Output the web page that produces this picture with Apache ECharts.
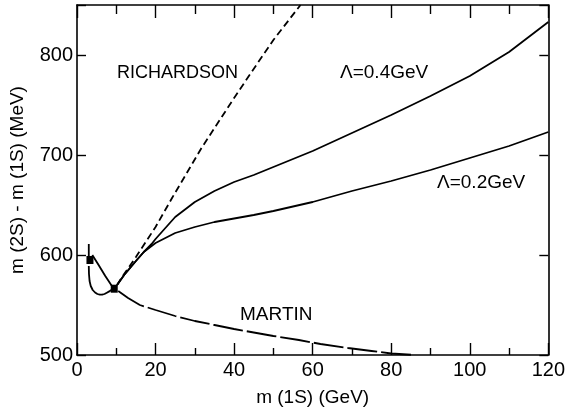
<!DOCTYPE html>
<html><head><meta charset="utf-8">
<script src="https://cdn.jsdelivr.net/npm/echarts@6/dist/echarts.min.js"></script>
<style>html,body{margin:0;padding:0;background:#fff}#c{width:568px;height:412px}</style>
</head><body><div id="c"></div>
<script>
// x ticks / y ticks
const xTicks = [0, 20, 40, 60, 80, 100, 120];
const yTicks = [500, 600, 700, 800];
// measured points (m(1S) GeV, ΔM MeV)
const pointsX = [3.3, 9.48];
const pointsY = [595, 566.3];
// Richardson (dashed)
const richX = [10.2, 12, 15, 20, 24.2, 31.7, 40, 44.1, 50, 56.9];
const richY = [570, 581, 598, 628, 657, 707, 757, 781, 815, 850];
// Lambda = 0.4 GeV
const l4X = [10.2, 12, 15, 17, 19, 20, 25, 30, 35, 40, 45, 50, 60, 70, 80, 90, 100, 110, 120];
const l4Y = [570, 580, 594, 603, 611, 616, 638, 653, 664, 673, 680, 688, 704, 722, 740, 759, 779, 803, 833];
// Lambda = 0.2 GeV
const l2X = [10.2, 12, 15, 17, 19, 20, 25, 30, 35, 40, 45, 50, 60, 70, 80, 90, 100, 110, 120];
const l2Y = [570, 580, 594, 603, 609, 612, 622, 628, 633, 636.5, 640, 644, 653, 664, 674, 685, 697, 709, 723];
// Martin (long dashes)
const martinX = [10.5, 13, 16, 20, 25, 30, 35, 40, 45, 50, 56.5, 62, 69, 75, 80, 86];
const martinY = [564, 557, 550, 545, 539, 534, 530, 526, 522.5, 519, 515, 511, 507, 504, 501.5, 500];
// low-mass branch: charm -> upsilon (descending)
const lowAX = [3.9, 5.5, 7.2, 8.8];
const lowAY = [600, 590, 579, 569.5];
// low-mass branch: dip below charm point
const lowBX = [3.0, 3.05, 3.2, 3.5, 4.0, 4.6, 5.2, 5.8, 6.4, 7.0, 7.6, 8.2, 8.7];
const lowBY = [589, 581, 574, 569, 565, 562.5, 561, 560.3, 560.3, 561, 562.3, 563.6, 565];
// charm error bar
const errX = [3.0, 3.0];
const errY = [611, 598];

const zip = (a, b) => a.map((v, i) => [v, b[i]]);
const FONT = 'Liberation Sans';
const chart = echarts.init(document.getElementById('c'), null, {renderer: 'canvas'});
const lineBase = (name, xs, ys, type, width) => ({
  name, type: 'line', data: zip(xs, ys), showSymbol: false, symbol: 'none',
  smooth: false, clip: true,
  lineStyle: {color: '#000', width: width || 1.8, type: type || 'solid'}, silent: true, z: 3
});
const axisCommon = {
  axisLine: {show: true, onZero: false, lineStyle: {color: '#000', width: 1.6}},
  splitLine: {show: false}
};
const tickStyle = {color: '#000', width: 1.4};
chart.setOption({
  animation: false,
  backgroundColor: '#fff',
  grid: {left: 72.5, right: 12, top: 5, bottom: 53.5, containLabel: false},
  xAxis: [
    Object.assign({type: 'value', min: 0, max: 120, interval: 20, position: 'bottom',
      axisTick: {show: true, inside: true, length: 12, lineStyle: tickStyle},
      minorTick: {show: true, splitNumber: 2, length: 7, lineStyle: tickStyle},
      axisLabel: {color: '#000', fontFamily: FONT, fontSize: 20, margin: 5,
        formatter: v => xTicks.includes(v) ? String(v) : ''},
      name: 'm (1S) (GeV)', nameLocation: 'middle', nameGap: 33,
      nameTextStyle: {color: '#000', fontFamily: FONT, fontSize: 19}}, axisCommon),
    Object.assign({type: 'value', min: 0, max: 120, interval: 20, position: 'top',
      axisTick: {show: true, inside: true, length: 13, lineStyle: tickStyle},
      minorTick: {show: true, splitNumber: 2, length: 9, lineStyle: tickStyle},
      axisLabel: {show: false}}, axisCommon)
  ],
  yAxis: [
    Object.assign({type: 'value', min: 500, max: 850, interval: 100, position: 'left',
      axisTick: {show: true, inside: true, length: 9, lineStyle: tickStyle},
      axisLabel: {color: '#000', fontFamily: FONT, fontSize: 20, margin: 4,
        formatter: v => yTicks.includes(v) ? String(v) : ''},
      name: 'm (2S) - m (1S) (MeV)', nameLocation: 'middle', nameGap: 50, nameRotate: 90,
      nameTextStyle: {color: '#000', fontFamily: FONT, fontSize: 19}}, axisCommon),
    Object.assign({type: 'value', min: 500, max: 850, interval: 100, position: 'right',
      axisTick: {show: true, inside: true, length: 9, lineStyle: tickStyle},
      axisLabel: {show: false}}, axisCommon)
  ],
  series: [
    lineBase('RICHARDSON', richX, richY, [7, 4]),
    lineBase('L04', l4X, l4Y),
    lineBase('L02', l2X, l2Y),
    lineBase('MARTIN', martinX, martinY, [30, 4]),
    lineBase('lowA', lowAX, lowAY),
    lineBase('lowB', lowBX, lowBY),
    lineBase('err', errX, errY),
    {type: 'scatter', data: zip(pointsX, pointsY), symbol: 'rect', symbolSize: [7, 8],
      itemStyle: {color: '#000', opacity: 1}, silent: true, z: 5}
  ],
  graphic: [
    {type: 'text', left: 117, top: 64, style: {text: 'RICHARDSON', font: '18px "Liberation Sans"', fill: '#000'}},
    {type: 'text', left: 340, top: 63, style: {text: 'Λ=0.4GeV', font: '19px "Liberation Sans"', fill: '#000'}},
    {type: 'text', left: 437, top: 173, style: {text: 'Λ=0.2GeV', font: '19px "Liberation Sans"', fill: '#000'}},
    {type: 'text', left: 240, top: 305, style: {text: 'MARTIN', font: '19px "Liberation Sans"', fill: '#000'}}
  ]
});
</script></body></html>
